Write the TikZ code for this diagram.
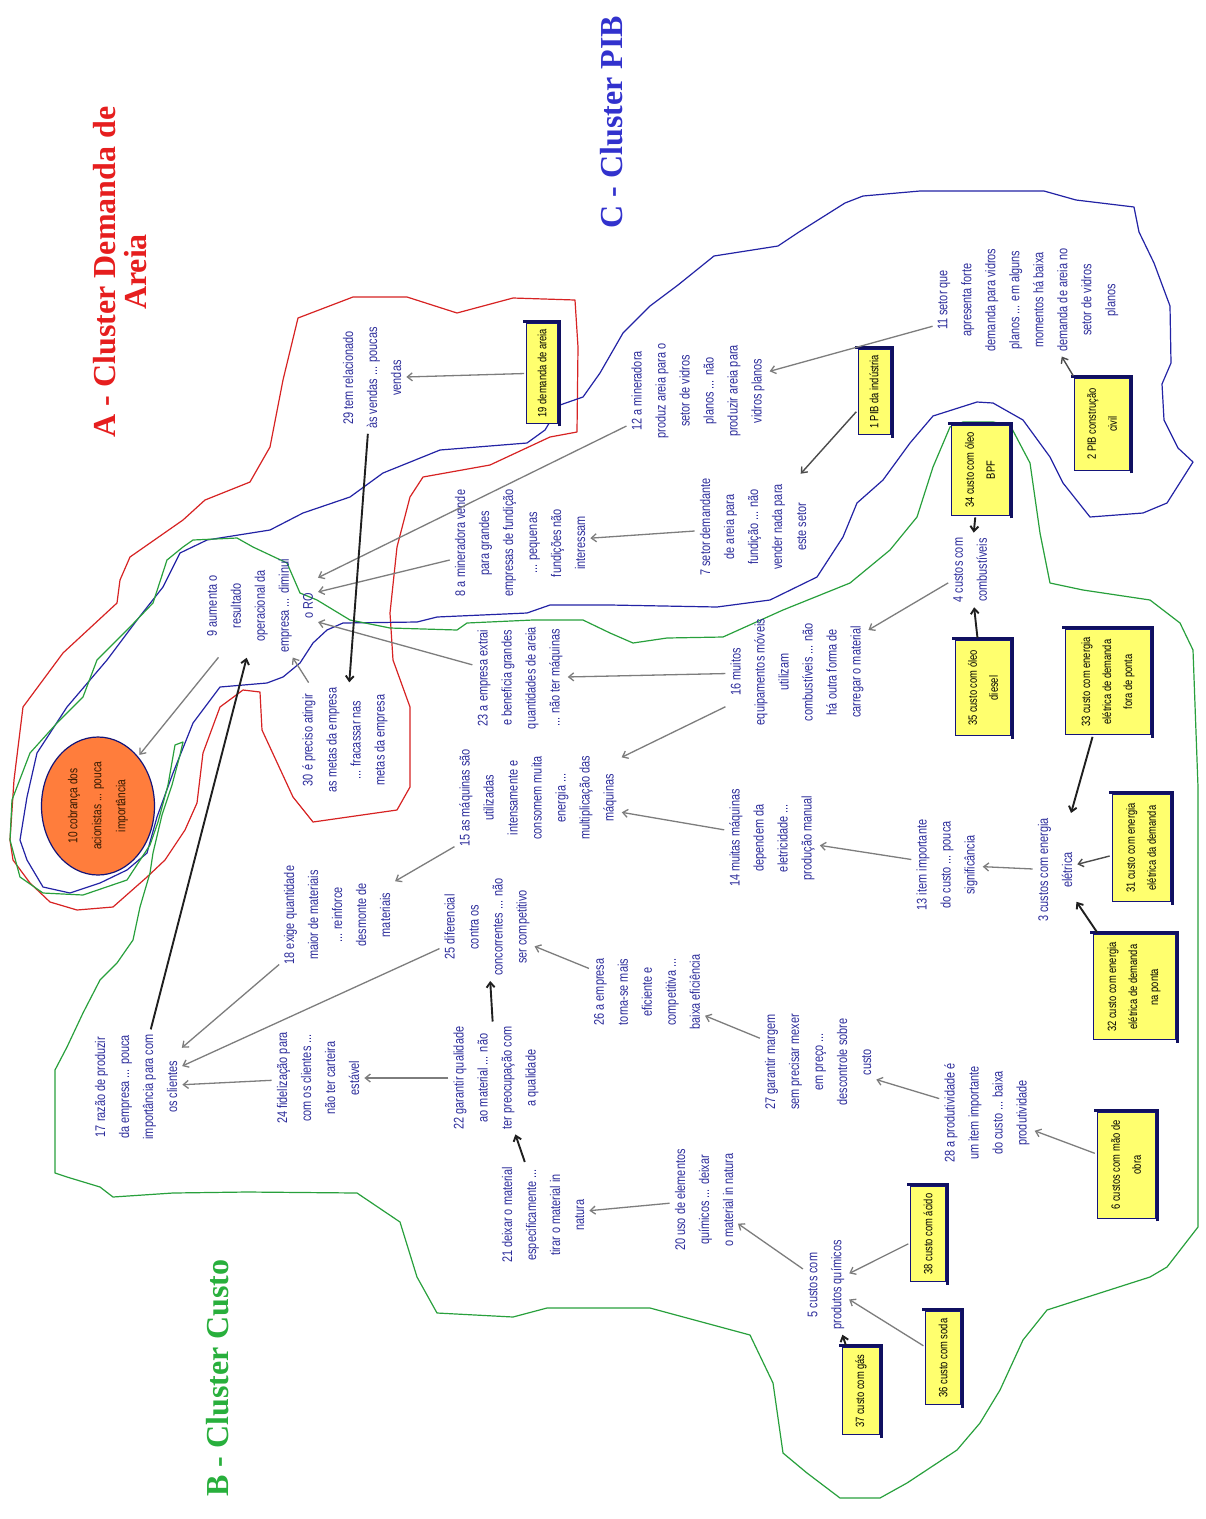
\documentclass[tikz,border=0pt]{standalone}
\usepackage{fontspec}
\usetikzlibrary{arrows.meta,shapes.geometric}
\newfontfamily\nf{Liberation Sans}[FakeStretch=0.78]
\newfontfamily\tf{Liberation Serif}
\definecolor{txtblue}{RGB}{45,45,155}
\definecolor{boxblue}{RGB}{20,20,120}
\definecolor{boxyel}{RGB}{255,255,110}
\definecolor{arrgray}{RGB}{125,125,125}
\definecolor{cred}{RGB}{215,35,35}
\definecolor{cgreen}{RGB}{40,160,60}
\definecolor{cblue}{RGB}{35,35,165}
\definecolor{tred}{RGB}{230,30,30}
\definecolor{tblue}{RGB}{50,50,205}
\definecolor{tgreen}{RGB}{40,175,60}
\definecolor{orng}{RGB}{255,125,60}
\tikzset{
  txt/.style={rotate=90, align=center, font=\nf\fontsize{14}{24}\selectfont, text=txtblue, inner sep=3pt},
  ybox/.style={rotate=90, align=center, draw=boxblue, fill=boxyel, line width=0.8pt, font=\nf\fontsize{12}{21}\selectfont, text=black, inner sep=1pt},
  shd/.style={draw=boxblue!80!black, line width=3pt},
  title/.style={rotate=90, align=center, font=\tf\bfseries\fontsize{32}{31}\selectfont},
  garr/.style={draw=arrgray, line width=1.3pt, -{Straight Barb[length=5pt,width=8pt]}, shorten >=2pt, shorten <=2pt},
  darr/.style={draw=black!70, line width=1.4pt, -{Straight Barb[length=5pt,width=8pt]}, shorten >=2pt, shorten <=2pt},
  barr/.style={draw=black!88, line width=1.9pt, -{Straight Barb[length=5pt,width=8pt]}, shorten >=2pt, shorten <=2pt},
  clus/.style={line width=1.2pt, line join=round}
}
\newcommand\ybx[6]{%
  \node[ybox, minimum width=#4pt, minimum height=#5pt] (#1) at (#2,#3) {#6};
  \draw[shd] ([xshift=1.6pt,yshift=-3pt]#1.south west) -- ([xshift=1.6pt,yshift=1.6pt]#1.south east) -- ([xshift=-3pt,yshift=1.6pt]#1.north east);}
\begin{document}
\begin{tikzpicture}[x=1pt,y=-1pt]
\fill[white] (0,0) rectangle (1206,1519);
\useasboundingbox (0,0) rectangle (1206,1519);

% cluster outlines
\draw[clus, cred] (250,482) -- (270,447) -- (283,380) -- (298,318) -- (353,297) -- (407,297) -- (457,313) -- (513,298) -- (575,300) -- (578,347) -- (577,432) -- (550,437) -- (490,465) -- (423,477) -- (410,497) -- (397,547) -- (390,613) -- (393,660) -- (410,707) -- (410,787) -- (397,810) -- (313,822) -- (293,797) -- (262,730) -- (260,692) -- (243,690) -- (220,707) -- (203,753) -- (197,803) -- (185,830) -- (165,860) -- (147,877) -- (113,907) -- (77,910) -- (50,902) -- (30,883) -- (13,860) -- (10,840) -- (14,780) -- (23,707) -- (63,653) -- (117,603) -- (120,580) -- (130,557) -- (183,520) -- (205,500) -- cycle;
\draw[clus, cblue] (27,797) -- (20,840) -- (27,860) -- (43,887) -- (70,893) -- (100,883) -- (127,870) -- (147,853) -- (157,817) -- (173,773) -- (193,723) -- (220,687) -- (267,683) -- (283,677) -- (300,663) -- (313,643) -- (327,630) -- (343,623) -- (417,622) -- (437,617) -- (527,613) -- (550,605) -- (610,605) -- (717,607) -- (770,600) -- (817,577) -- (843,537) -- (857,503) -- (883,480) -- (910,443) -- (933,416) -- (977,402) -- (993,403) -- (1023,420) -- (1050,457) -- (1063,483) -- (1090,517) -- (1143,513) -- (1167,503) -- (1193,462) -- (1178,448) -- (1164,420) -- (1162,384) -- (1171,363) -- (1170,306) -- (1154,263) -- (1139,232) -- (1134,207) -- (1076,200) -- (1044,191) -- (920,191) -- (863,196) -- (845,203) -- (799,232) -- (778,246) -- (714,256) -- (678,285) -- (650,306) -- (623,333) -- (600,373) -- (583,397) -- (560,405) -- (545,430) -- (527,443) -- (440,450) -- (383,473) -- (350,497) -- (303,513) -- (270,530) -- (207,540) -- (180,553) -- (163,587) -- (137,620) -- (107,660) -- (67,707) -- (37,753) -- cycle;
\draw[clus, cgreen] (193,540) -- (237,538) -- (253,547) -- (287,563) -- (300,593) -- (317,600) -- (350,620) -- (390,628) -- (457,630) -- (467,623) -- (533,620) -- (583,620) -- (610,633) -- (633,643) -- (667,638) -- (723,637) -- (783,610) -- (850,583) -- (890,550) -- (917,517) -- (933,467) -- (950,427) -- (963,422) -- (993,422) -- (1010,425) -- (1030,463) -- (1040,533) -- (1050,583) -- (1083,590) -- (1150,600) -- (1180,623) -- (1193,650) -- (1198,787) -- (1198,1227) -- (1167,1267) -- (1150,1277) -- (1100,1293) -- (1047,1310) -- (1023,1340) -- (1000,1390) -- (980,1423) -- (957,1450) -- (907,1483) -- (880,1498) -- (840,1498) -- (807,1473) -- (783,1453) -- (773,1383) -- (750,1335) -- (650,1308) -- (547,1308) -- (513,1317) -- (437,1313) -- (417,1277) -- (400,1222) -- (357,1193) -- (247,1192) -- (173,1193) -- (113,1197) -- (100,1187) -- (67,1177) -- (55,1173) -- (55,1070) -- (67,1047) -- (83,1013) -- (100,980) -- (117,963) -- (133,940) -- (140,907) -- (150,873) -- (153,853) -- (162,815) -- (172,785) -- (180,755) -- (183,742) -- (175,745) -- (168,785) -- (158,822) -- (150,845) -- (127,880) -- (83,895) -- (43,893) -- (20,877) -- (10,840) -- (12,800) -- (30,753) -- (57,723) -- (83,697) -- (97,660) -- (130,627) -- (153,603) -- (167,560) -- (183,547) -- cycle;

% titles
\node[title, text=tred] (tA) at (120,272) {A - Cluster Demanda de\\Areia};
\node[title, text=tblue] (tC) at (612,122) {C - Cluster PIB};
\node[title, text=tgreen] (tB) at (218,1378) {B - Cluster Custo};

% concept nodes
\node[rotate=90, ellipse, draw=boxblue, line width=1.2pt, fill=orng, minimum width=138pt, minimum height=113pt, inner sep=0pt, align=center, font=\nf\fontsize{13}{24}\selectfont, text=black!80!orange] (n10) at (98,806) {10 cobrança dos\\acionistas ... pouca\\importância};
\node[txt] (n9) at (260,606) {9 aumenta o\\resultado\\operacional da\\empresa ... diminui\\o RO};
\node[txt] (n29) at (372,378) {29 tem relacionado\\às vendas ... poucas\\vendas};
\node[txt] (n12) at (698,391) {12 a mineradora\\produz areia para o\\setor de vidros\\planos ... não\\produzir areia para\\vidros planos};
\node[txt] (n8) at (520,543) {8 a mineradora vende\\para grandes\\empresas de fundição\\... pequenas\\fundições não\\interessam};
\node[txt] (n7) at (753,527) {7 setor demandante\\de areia para\\fundição ... não\\vender nada para\\este setor};
\node[txt] (n11) at (1028,300) {11 setor que\\apresenta forte\\demanda para vidros\\planos ... em alguns\\momentos há baixa\\demanda de areia no\\setor de vidros\\planos};
\node[txt] (n4) at (970,570) {4 custos com\\combustíveis};
\node[txt] (n16) at (797,672) {16 muitos\\equipamentos móveis\\utilizam\\combustíveis ... não\\há outra forma de\\carregar o material};
\node[txt] (n23) at (520,678) {23 a empresa extrai\\e beneficia grandes\\quantidades de areia\\... não ter máquinas};
\node[txt] (n30) at (345,740) {30 é preciso atingir\\as metas da empresa\\... fracassar nas\\metas da empresa};
\node[txt] (n15) at (538,798) {15 as máquinas são\\utilizadas\\intensamente e\\consomem muita\\energia ...\\multiplicação das\\máquinas};
\node[txt] (n14) at (772,838) {14 muitas máquinas\\dependem da\\eletricidade ...\\produção manual};
\node[txt] (n13) at (947,865) {13 item importante\\do custo ... pouca\\significância};
\node[txt] (n3) at (1055,870) {3 custos com energia\\elétrica};
\node[txt] (n18) at (337,915) {18 exige quantidade\\maior de materiais\\... reinforce\\desmonte de\\materiais};
\node[txt] (n25) at (487,927) {25 diferencial\\contra os\\concorrentes ... não\\ser competitivo};
\node[txt] (n17) at (136,1087) {17 razão de produzir\\da empresa ... pouca\\importância para com\\os clientes};
\node[txt] (n24) at (318,1078) {24 fidelização para\\com os clientes ...\\não ter carteira\\estável};
\node[txt] (n22) at (496,1078) {22 garantir qualidade\\ao material ... não\\ter preocupação com\\a qualidade};
\node[txt] (n26) at (647,992) {26 a empresa\\torna-se mais\\eficiente e\\competitiva ...\\baixa eficiência};
\node[txt] (n27) at (818,1062) {27 garantir margem\\sem precisar mexer\\em preço ...\\descontrole sobre\\custo};
\node[txt] (n28) at (987,1113) {28 a produtividade é\\um item importante\\do custo ... baixa\\produtividade};
\node[txt] (n21) at (543,1215) {21 deixar o material\\especificamente ...\\tirar o material in\\natura};
\node[txt] (n20) at (704,1200) {20 uso de elementos\\químicos ... deixar\\o material in natura};
\node[txt] (n5) at (826,1285) {5 custos com\\produtos químicos};

% yellow boxes
\ybx{b19}{542}{373}{100}{31}{19 demanda de areia}
\ybx{b1}{874}{392}{85}{32}{1 PIB da indústria}
\ybx{b2}{1102}{424}{92}{55}{2 PIB construção\\civil}
\ybx{b34}{980}{470}{90}{58}{34 custo com óleo\\BPF}
\ybx{b35}{983}{688}{95}{55}{35 custo com óleo\\diesel}
\ybx{b33}{1108}{682}{105}{85}{33 custo com energia\\elétrica de demanda\\fora de ponta}
\ybx{b31}{1141}{848}{107}{58}{31 custo com energia\\elétrica da demanda}
\ybx{b32}{1134}{987}{105}{82}{32 custo com energia\\elétrica de demanda\\na ponta}
\ybx{b6}{1126}{1165}{106}{58}{6 custos com mão de\\obra}
\ybx{b38}{928}{1234}{95}{35}{38 custo com ácido}
\ybx{b36}{943}{1358}{93}{35}{36 custo com soda}
\ybx{b37}{861}{1391}{87}{37}{37 custo com gás}

% connectors
\draw[garr] (n9) -- (n10);
\draw[barr] (n17) -- (n9);
\draw[garr] (n30) -- (n9);
\draw[garr] (n23) -- (n9);
\draw[garr] (n8) -- (n9);
\draw[garr] (n12) -- (n9);
\draw[barr] (n29) -- (n30);
\draw[garr] (b19) -- (n29);
\draw[garr] (n7) -- (n8);
\draw[darr] (b1) -- (n7);
\draw[garr] (n11) -- (n12);
\draw[darr] (b2) -- (n11);
\draw[barr] (b34) -- (n4);
\draw[barr] (b35) -- (n4);
\draw[garr] (n4) -- (n16);
\draw[garr] (n16) -- (n23);
\draw[garr] (n16) -- (n15);
\draw[garr] (n14) -- (n15);
\draw[garr] (n15) -- (n18);
\draw[garr] (n26) -- (n25);
\draw[barr] (n22) -- (n25);
\draw[garr] (n25) -- (n17);
\draw[garr] (n18) -- (n17);
\draw[garr] (n24) -- (n17);
\draw[garr] (n22) -- (n24);
\draw[garr] (n27) -- (n26);
\draw[barr] (n21) -- (n22);
\draw[garr] (n20) -- (n21);
\draw[garr] (n5) -- (n20);
\draw[garr] (n28) -- (n27);
\draw[garr] (b6) -- (n28);
\draw[garr] (b38) -- (n5);
\draw[garr] (b36) -- (n5);
\draw[barr] (b37) -- (n5);
\draw[barr] (b33) -- (n3);
\draw[darr] (b31) -- (n3);
\draw[barr] (b32) -- (n3);
\draw[garr] (n3) -- (n13);
\draw[garr] (n13) -- (n14);
\end{tikzpicture}
\end{document}
